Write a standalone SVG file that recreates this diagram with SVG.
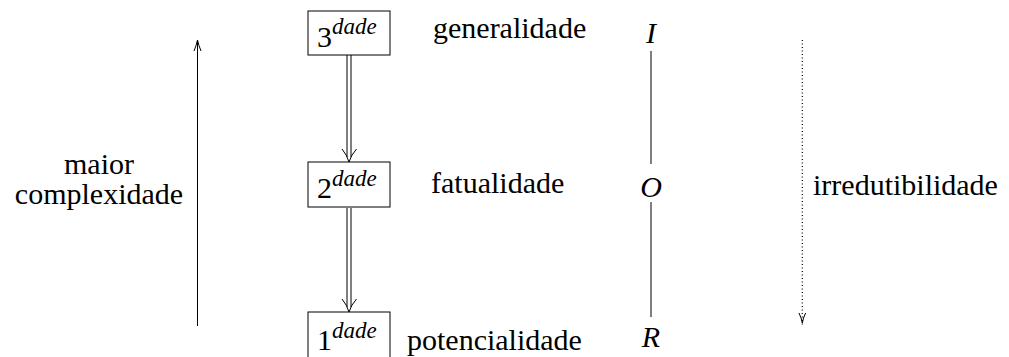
<svg xmlns="http://www.w3.org/2000/svg" width="1009" height="357" viewBox="0 0 1009 357" font-family="'Liberation Serif', 'Times New Roman', serif">
<style>
text{font-family:"Liberation Serif","Times New Roman",serif;font-size:30px;fill:#000}
.it{font-style:italic}
.sup{font-style:italic;font-size:23px}
.box{fill:#fff;stroke:#000;stroke-width:1}
.ln{stroke:#000;stroke-width:1;fill:none}
.dot{stroke:#000;stroke-width:1.2;fill:none;stroke-dasharray:1 2.5}
</style>
<g id="connectors">
  <path class="ln" d="M347,55V157M351,55V157"/>
  <path class="ln" d="M342,149Q347,155 349,162Q351,155 356.5,149"/>
  <path class="ln" d="M347,208V307M351,208V307"/>
  <path class="ln" d="M342,299Q347,305 349,312Q351,305 356.5,299"/>
  <path class="ln" d="M197.5,326V41"/>
  <path class="ln" d="M194,51Q196.5,45 197.5,40Q198.5,45 201,51"/>
  <path class="dot" d="M802.3,40V326"/>
  <path class="ln" d="M799,313Q801.5,318 802.3,323Q803.1,318 805.6,313"/>
  <path class="ln" d="M651,51V164M651,202V317"/>
</g>
<g id="n3">
  <rect class="box" x="308" y="11" width="82" height="44"/>
  <text x="317" y="47">3<tspan class="sup" dy="-13">dade</tspan></text>
</g>
<g id="n2">
  <rect class="box" x="308" y="162" width="82" height="45"/>
  <text x="317" y="198">2<tspan class="sup" dy="-12">dade</tspan></text>
</g>
<g id="n1">
  <rect class="box" x="308" y="312" width="82" height="46"/>
  <text x="317" y="350">1<tspan class="sup" dy="-12">dade</tspan></text>
</g>
<g id="generalidade"><text x="433" y="38">generalidade</text></g>
<g id="fatualidade"><text x="431" y="193">fatualidade</text></g>
<g id="potencialidade"><text x="407" y="350">potencialidade</text></g>
<g id="I"><text class="it" x="651" y="43" text-anchor="middle">I</text></g>
<g id="O"><text class="it" x="651" y="197" text-anchor="middle">O</text></g>
<g id="R"><text class="it" x="651" y="347" text-anchor="middle">R</text></g>
<g id="maior"><text x="99" y="174" text-anchor="middle">maior</text><text x="99" y="204" text-anchor="middle">complexidade</text></g>
<g id="irredutibilidade"><text x="813" y="195">irredutibilidade</text></g>
</svg>
